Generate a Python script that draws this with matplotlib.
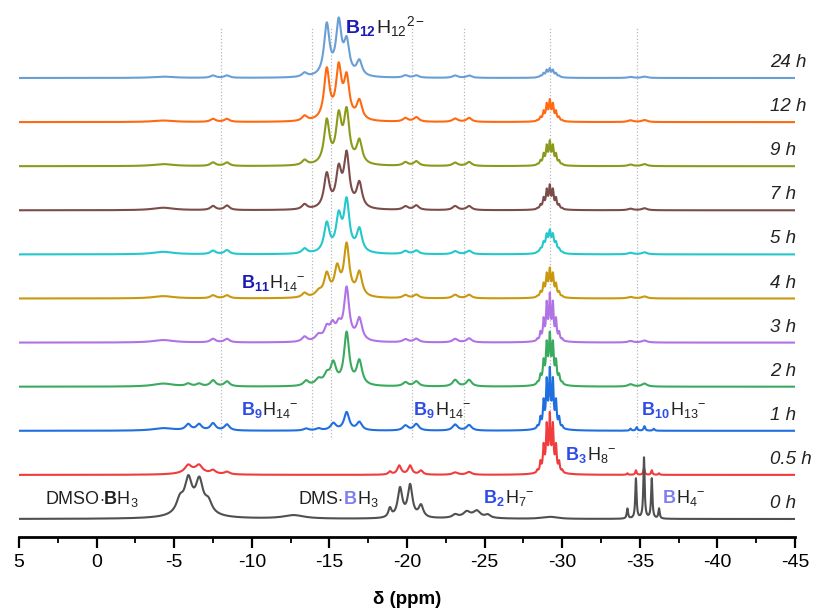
import numpy as np
import matplotlib.pyplot as plt
import matplotlib.transforms as mtransforms

plt.rcParams['font.family'] = ['Liberation Sans', 'DejaVu Sans']
plt.rcParams['mathtext.fontset'] = 'custom'
plt.rcParams['mathtext.rm'] = 'Liberation Sans'
plt.rcParams['mathtext.bf'] = 'Liberation Sans:bold'
plt.rcParams['mathtext.it'] = 'Liberation Sans:italic'
plt.rcParams['axes.unicode_minus'] = False

# axe des déplacements chimiques (ppm)
ppm = np.linspace(5, -45, 8000)

times = ['0 h', '0.5 h', '1 h', '2 h', '3 h', '4 h', '5 h', '7 h', '9 h', '12 h', '24 h']
colors = ['#505050', '#f03c3c', '#1f6fe0', '#3aaa5e', '#b072e4', '#c9980e',
          '#22c8cc', '#7b4d4a', '#8c9a1c', '#ff6a10', '#6a9fd6']

# pics de chaque spectre : (déplacement ppm, hauteur, demi-largeur ppm)
peaks_0h = [(-5.37, 13, 0.28), (-5.91, 31, 0.28), (-6.62, 30, 0.28), (-7.2, 11, 0.28),
            (-6.25, 6, 1.2), (-12.7, 3.5, 0.8),
            (-18.9, 9, 0.12), (-19.55, 29, 0.18), (-20.2, 32, 0.18), (-20.9, 12, 0.18),
            (-23.1, 3, 0.2), (-23.85, 5, 0.25), (-24.5, 6, 0.25), (-25.2, 3, 0.2), (-24.1, 2, 1.0),
            (-34.2, 10, 0.05), (-34.75, 40, 0.05), (-35.27, 61, 0.05), (-35.77, 40, 0.05),
            (-36.24, 10, 0.05)]
peaks_05h = [(-5.9, 7, 0.25), (-6.6, 7, 0.25), (-6.25, 3, 0.9),
             (-7.5, 3.5, 0.2), (-8.4, 2.5, 0.2),
             (-18.9, 3, 0.12), (-19.5, 9, 0.15), (-20.2, 9, 0.15), (-20.9, 4, 0.15),
             (-23.1, 2.3, 0.2), (-24.0, 2.8, 0.2),
             (-34.2, 1.5, 0.05), (-34.75, 4.5, 0.05), (-35.27, 7, 0.05), (-35.77, 4.5, 0.05),
             (-36.24, 1.5, 0.05)]
peaks_1h = [(-4.3, 2.5, 0.8), (-5.9, 6, 0.2), (-6.6, 6, 0.2), (-7.5, 7, 0.2), (-8.4, 6, 0.2),
            (-13.5, 2, 0.2), (-14.3, 2, 0.2),
            (-15.25, 7, 0.21), (-16.11, 18, 0.2), (-16.93, 8, 0.2),
            (-19.9, 5, 0.2), (-20.6, 6.5, 0.2), (-23.1, 6, 0.2), (-24.0, 5.5, 0.2),
            (-34.4, 2, 0.06), (-34.8, 3.5, 0.06), (-35.3, 4.5, 0.06), (-35.9, 2, 0.06)]
peaks_2h = [(-4.3, 3, 0.8), (-5.9, 2.5, 0.2), (-6.6, 2.5, 0.2), (-7.5, 6, 0.2), (-8.4, 5, 0.2),
            (-13.5, 5, 0.2), (-14.3, 6, 0.25), (-14.83, 9, 0.21),
            (-15.25, 21, 0.22), (-16.11, 52, 0.2), (-16.93, 24, 0.21),
            (-19.9, 4, 0.2), (-20.6, 5, 0.2), (-23.1, 6.5, 0.2), (-24.0, 6.5, 0.2),
            (-34.4, 2.3, 0.2), (-35.3, 3, 0.2)]
peaks_3h = [(-4.3, 2.5, 0.8), (-7.5, 3.5, 0.2), (-8.4, 3.5, 0.2),
            (-13.4, 5, 0.2), (-14.3, 6, 0.25),
            (-14.83, 12, 0.2), (-15.2, 14, 0.2), (-15.6, 13, 0.2), (-16.11, 52, 0.2),
            (-16.93, 22, 0.21),
            (-19.9, 3, 0.2), (-20.6, 3.5, 0.2), (-23.1, 3.5, 0.2), (-24.0, 4, 0.2),
            (-34.4, 1.5, 0.2), (-35.3, 2, 0.2)]
peaks_4h = [(-4.3, 2.3, 0.8), (-7.5, 3, 0.2), (-8.4, 3, 0.2),
            (-13.4, 4.5, 0.2), (-14.3, 5, 0.25),
            (-14.83, 22, 0.21), (-15.5, 27, 0.21), (-16.11, 51, 0.21), (-16.93, 24, 0.21),
            (-19.9, 3, 0.2), (-20.6, 3.5, 0.2), (-23.1, 3.5, 0.2), (-24.0, 3.5, 0.2),
            (-34.4, 1.5, 0.2), (-35.3, 2, 0.2)]
peaks_5h = [(-4.3, 2.5, 0.8), (-7.5, 3.5, 0.2), (-8.4, 4, 0.2),
            (-13.4, 5, 0.2),
            (-14.83, 29, 0.21), (-15.6, 34, 0.21), (-16.11, 50, 0.21), (-16.93, 23, 0.21),
            (-19.9, 3, 0.2), (-20.6, 3.5, 0.2), (-23.1, 3, 0.2), (-24.0, 3.5, 0.2),
            (-34.4, 1.5, 0.2), (-35.3, 2, 0.2)]
peaks_7h = [(-4.3, 2.5, 0.8), (-7.5, 4, 0.2), (-8.4, 4.5, 0.2),
            (-13.4, 5, 0.2),
            (-14.83, 34, 0.21), (-15.6, 36, 0.21), (-16.11, 52, 0.21), (-16.93, 25, 0.21),
            (-19.9, 3.5, 0.2), (-20.6, 4.5, 0.2), (-23.1, 4, 0.2), (-24.0, 4, 0.2),
            (-34.4, 1.5, 0.2), (-35.3, 2, 0.2)]
peaks_9h = [(-4.3, 2, 0.8), (-7.5, 3.5, 0.2), (-8.4, 3.5, 0.2),
            (-13.4, 5, 0.2),
            (-14.83, 43, 0.21), (-15.6, 45, 0.21), (-16.11, 50, 0.21), (-16.93, 23, 0.21),
            (-19.9, 3.5, 0.2), (-20.6, 4.5, 0.2), (-23.1, 3.3, 0.2), (-24.0, 4, 0.2),
            (-34.4, 1.5, 0.2), (-35.3, 2, 0.2)]
peaks_12h = [(-4.3, 1.5, 0.8), (-7.5, 3, 0.2), (-8.4, 3, 0.2),
             (-13.4, 5, 0.2),
             (-14.83, 50, 0.21), (-15.6, 50, 0.21), (-16.11, 40, 0.21), (-16.93, 19, 0.21),
             (-19.9, 3.5, 0.2), (-20.6, 4.5, 0.2), (-23.1, 3.3, 0.2), (-24.0, 4, 0.2),
             (-34.4, 1.7, 0.2), (-35.3, 2, 0.2)]
peaks_24h = [(-4.3, 1.3, 0.8), (-7.5, 2.3, 0.2), (-8.4, 2.3, 0.2),
             (-13.4, 4, 0.2),
             (-14.83, 51, 0.21), (-15.6, 52, 0.21), (-16.11, 32, 0.21), (-16.93, 15, 0.21),
             (-19.9, 2.3, 0.2), (-20.6, 2.3, 0.2), (-23.1, 2.3, 0.2), (-24.0, 2.3, 0.2),
             (-34.4, 1, 0.2), (-35.3, 1.3, 0.2)]
all_peaks = [peaks_0h, peaks_05h, peaks_1h, peaks_2h, peaks_3h, peaks_4h,
             peaks_5h, peaks_7h, peaks_9h, peaks_12h, peaks_24h]

# multiplet de B3H8- vers -29.2 ppm
b3h8_shift = -29.2
b3h8_lines = [-0.8, -0.6, -0.4, -0.2, 0.0, 0.2, 0.4, 0.6, 0.8]
b3h8_rel = [0.05, 0.2, 0.5, 0.85, 1.0, 0.85, 0.5, 0.2, 0.05]
b3h8_height = [2, 63, 64, 55, 50, 31, 25, 26, 26, 23, 10]
b3h8_width = [0.4, 0.05, 0.05, 0.06, 0.05, 0.06, 0.08, 0.06, 0.06, 0.06, 0.07]

# lignes pointillées verticales (ppm)
guide_ppm = [-8.0, -13.9, -15.1, -20.3, -23.7, -29.2, -34.8]

step = 44.1
base0 = 18


def lorentz(x, x0, h, w):
    return h / (1 + ((x - x0) / w) ** 2)


def multiplet(x, height, w):
    shape = sum(lorentz(x, b3h8_shift + d, r, w) for d, r in zip(b3h8_lines, b3h8_rel))
    shape = shape + lorentz(x, b3h8_shift, 0.25, 0.35)
    return height * shape / shape.max()


fig = plt.figure(figsize=(8.13, 6.14), dpi=100)
ax = fig.add_axes([19 / 813, 77 / 614, 776 / 813, 537 / 614])
ax.set_xlim(5, -45)
ax.set_ylim(0, 537)

ax.vlines(guide_ppm, 100, 510, colors='#b8b8b8', linestyles=':', linewidth=0.9, zorder=0)

# du haut (24 h) vers le bas pour que les spectres du bas passent devant
for i in range(len(times) - 1, -1, -1):
    y = np.zeros_like(ppm)
    for x0, h, w in all_peaks[i]:
        y += lorentz(ppm, x0, h, w)
    y += multiplet(ppm, b3h8_height[i], b3h8_width[i])
    off = base0 + step * i
    ax.plot(ppm, y + off, color=colors[i], lw=1.5, zorder=2 + len(times) - i)
    ax.text(-43.4, off + 11, times[i], fontsize=13.5, style='italic', color='#222222',
            ha='left', va='baseline')

for s in ['left', 'right', 'top']:
    ax.spines[s].set_visible(False)
ax.spines['bottom'].set_linewidth(2)
ax.set_yticks([])
ax.set_xticks(np.arange(5, -46, -5))
ax.set_xticks(np.arange(2.5, -45, -5), minor=True)
ax.tick_params(axis='x', which='major', length=8, width=1.6, labelsize=14, pad=4)
ax.tick_params(axis='x', which='minor', length=4, width=1.3)
fig.text(407 / 813, 14 / 614, 'δ (ppm)', ha='center', va='center', fontsize=13.5,
         fontweight='bold')

fig.canvas.draw()
renderer = fig.canvas.get_renderer()


def put_label(x, y, pieces, size=13):
    px, py = ax.transData.transform((x, y))
    for s, c in pieces:
        t = ax.text(px, py, s, color=c, fontsize=size, ha='left', va='baseline',
                    transform=mtransforms.IdentityTransform(), zorder=20)
        px += t.get_window_extent(renderer).width


navy = '#1c1cb4'
blue = '#2f4de6'
pale = '#7f7ff0'
ink = '#222222'
put_label(-16.0, 504, [(r'$\mathbf{B_{12}}$', navy), (r'H$_{12}{}^{2-}$', ink)], 14)
put_label(-9.28, 249, [(r'$\mathbf{B_{11}}$', navy), (r'H$_{14}{}^{-}$', ink)])
put_label(-9.28, 122, [(r'$\mathbf{B_{9}}$', blue), (r'H$_{14}{}^{-}$', ink)])
put_label(-20.4, 122, [(r'$\mathbf{B_{9}}$', blue), (r'H$_{14}{}^{-}$', ink)])
put_label(-35.1, 122, [(r'$\mathbf{B_{10}}$', blue), (r'H$_{13}{}^{-}$', ink)])
put_label(-30.2, 77, [(r'$\mathbf{B_{3}}$', blue), (r'H$_{8}{}^{-}$', ink)])
put_label(-24.9, 34, [(r'$\mathbf{B_{2}}$', blue), (r'H$_{7}{}^{-}$', ink)])
put_label(-36.4, 34, [(r'$\mathbf{B}$', pale), (r'H$_{4}{}^{-}$', ink)])
put_label(3.32, 33, [(r'DMSO$\cdot\mathbf{B}$H$_{3}$', ink)], 13)
put_label(-12.96, 33, [(r'DMS$\cdot$', ink), (r'$\mathbf{B}$', pale), (r'H$_{3}$', ink)], 13)

fig.savefig('out.png', dpi=100)
